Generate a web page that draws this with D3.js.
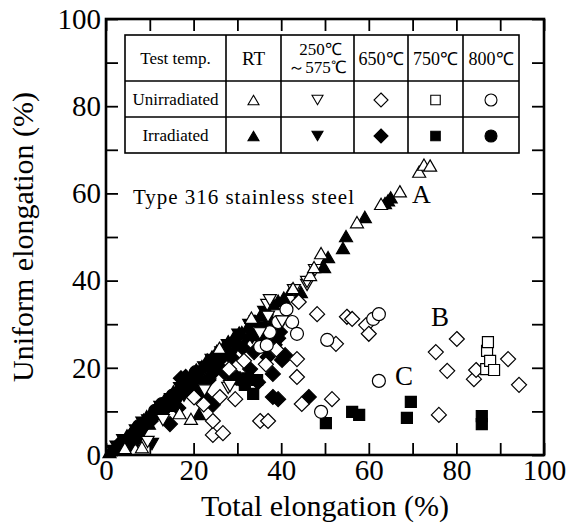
<!DOCTYPE html>
<meta charset="utf-8">
<script src="https://d3js.org/d3.v7.min.js"></script>
<style>
  body { margin: 0; background: #fff; }
  text { font-family: "Liberation Serif", "Times New Roman", serif; fill: #000; }
</style>
<div id="chart"></div>
<script>

// data: [total elongation %, uniform elongation %]
const rtUnirr = [[4.3,1.6],[8.2,1.8],[16.8,9.6],[19.4,8.3],[25.9,24.6],[33.2,31.5],[42.7,38.3],[46.6,41.3],[47.5,43.1],[49.1,46.3],[57.3,53.4],[62.8,57.6],[67.1,60.5],[71.5,65.0],[72.6,66.6],[74.0,66.4]]
const rtIrr = [[0.8,0.7],[1.9,1.6],[2.7,2.5],[3.6,3.2],[4.8,4.5],[5.2,3.6],[5.6,5.1],[6.5,6.2],[7.4,6.8],[8.6,8.1],[9.3,8.9],[9.8,7.2],[10.4,9.6],[11.2,10.6],[12.1,11.2],[13.3,12.6],[14.2,13.1],[14.7,11.3],[15.4,14.6],[16.3,15.2],[17.6,16.3],[18.5,17.5],[19.1,14.8],[19.7,18.2],[20.6,19.6],[21.2,9.4],[21.9,20.4],[23.1,21.9],[23.6,18.9],[24.2,22.6],[25.3,23.9],[26.8,24.8],[27.9,26.1],[28.4,23.6],[29.1,26.9],[30.4,28.1],[31.0,28.2],[32.5,29.6],[33.1,27.5],[34.0,30.8],[35.3,32.1],[36.7,33.4],[37.4,31.6],[38.2,34.6],[39.3,35.4],[40.6,36.1],[42.3,37.9],[44.5,37.4],[49.5,43.3],[49.8,43.1],[50.7,45.4],[54.1,47.5],[54.8,50.2],[59.1,54.6],[63.7,57.8],[64.4,58.4],[65.0,59.1]]
const midUnirr = [[9.5,3.0],[13.0,8.0],[22.5,14.8],[27.9,15.4],[28.3,15.8],[35.1,27.9],[36.8,34.4],[37.0,31.7],[37.4,35.5],[40.2,30.6],[42.9,37.8],[45.9,39.0],[45.9,39.7],[47.7,42.4]]
const midIrr = [[1.6,0.9],[2.4,1.9],[3.9,3.4],[4.6,2.7],[5.5,1.8],[6.8,5.6],[7.2,3.1],[7.9,4.3],[8.3,7.4],[9.6,7.9],[10.5,2.5],[11.8,9.4],[12.4,11.0],[12.9,10.2],[13.1,8.7],[14.8,12.8],[15.9,11.4],[16.9,15.3],[17.8,13.6],[18.3,15.1],[19.6,17.6],[20.8,15.4],[21.4,17.9],[22.4,20.1],[24.1,21.8],[25.2,20.6],[26.3,23.5],[27.8,25.2],[28.8,23.1],[29.6,25.4],[30.2,27.6],[31.9,26.3],[32.7,29.8],[33.4,26.9],[34.2,30.6],[35.5,29.4],[36.1,32.8]]
const t650Unirr = [[20.1,13.2],[22.3,11.6],[24.4,4.6],[24.4,7.8],[26.0,13.3],[26.7,5.0],[28.1,19.7],[29.5,12.8],[31.5,21.6],[35.2,7.8],[37.0,7.8],[36.5,20.8],[38.9,24.2],[43.6,17.9],[43.6,22.0],[44.0,35.1],[44.7,11.7],[48.2,32.3],[51.6,12.8],[52.5,25.5],[55.0,31.7],[56.2,31.2],[59.4,29.8],[60.0,27.8],[75.3,23.6],[76.0,9.2],[77.9,19.3],[80.1,26.6],[84.0,17.4],[84.5,19.5],[91.8,22.0],[94.3,16.1]]
const t650Irr = [[3.1,2.6],[6.2,5.0],[8.9,6.9],[10.2,7.8],[11.5,9.4],[13.6,11.5],[14.6,7.1],[15.8,12.9],[16.5,10.8],[17.1,17.6],[17.4,14.9],[18.2,17.9],[18.9,15.3],[19.8,16.7],[20.6,14.1],[21.7,16.3],[22.9,12.8],[23.4,17.2],[24.4,11.5],[24.9,19.4],[25.7,20.3],[26.5,22.3],[27.2,18.8],[28.6,22.4],[29.9,17.7],[30.6,17.4],[31.2,24.6],[32.9,19.7],[33.8,23.6],[34.4,27.8],[34.7,16.7],[35.8,26.4],[36.9,22.5],[37.6,29.9],[38.1,18.6],[38.1,13.3],[38.5,25.3],[39.3,12.8],[39.3,26.8],[39.7,28.2],[40.2,21.8],[40.9,22.9],[46.3,13.3]]
const t750Unirr = [[86.8,19.7],[87.0,23.9],[87.2,25.9],[87.7,21.6],[88.6,19.5]]
const t750Irr = [[29.0,17.4],[31.7,16.1],[32.4,17.6],[33.6,14.0],[34.5,17.2],[50.2,7.3],[56.2,9.9],[57.8,9.2],[68.7,8.5],[69.6,12.2],[85.8,8.9],[85.8,7.1]]
const t800Unirr = [[35.2,24.8],[36.7,25.2],[37.4,28.2],[39.3,30.5],[41.2,33.4],[42.5,30.5],[43.6,27.8],[49.1,9.9],[50.5,26.4],[61.0,31.2],[62.3,32.3],[62.3,17.0]]
const t800Irr = [[7.5,6.6],[11.2,10.1],[12.8,11.7],[15.2,13.6],[17.9,16.4],[20.5,19.0],[23.6,20.9],[26.1,22.9],[29.4,25.8]]

const xTicks = [0, 20, 40, 60, 80, 100]
const yTicks = [0, 20, 40, 60, 80, 100]
const tempLabels = ["RT", ["250℃", "～575℃"], "650℃", "750℃", "800℃"]
const shapes = ["up", "down", "diamond", "square", "circle"]

// shape paths, drawn around (0,0)
function shapePath(kind, s) {
  const p = d3.path()
  if (kind === "up" || kind === "down") {
    const h = s * 0.866, k = kind === "up" ? 1 : -1
    p.moveTo(0, -k * h / 2); p.lineTo(s / 2, k * h / 2); p.lineTo(-s / 2, k * h / 2); p.closePath()
  } else if (kind === "diamond") {
    const r = s / 2
    p.moveTo(0, -r); p.lineTo(r, 0); p.lineTo(0, r); p.lineTo(-r, 0); p.closePath()
  } else if (kind === "square") {
    p.rect(-s / 2, -s / 2, s, s)
  } else {
    p.arc(0, 0, s / 2, 0, 2 * Math.PI)
  }
  return p.toString()
}
const plotSize = { up: 13, down: 13, diamond: 15, square: 11, circle: 13 }
const keySize = { up: 11, down: 11, diamond: 14, square: 9.5, circle: 12 }

const width = 568, height = 524
const x = d3.scaleLinear().domain([0, 100]).range([106, 544])
const y = d3.scaleLinear().domain([0, 100]).range([455, 19])

const svg = d3.select("#chart").append("svg")
  .attr("width", width).attr("height", height)

// points: filled first, open ones on top
const series = [
  { data: rtIrr, shape: "up", filled: true },
  { data: midIrr, shape: "down", filled: true },
  { data: t650Irr, shape: "diamond", filled: true },
  { data: t750Irr, shape: "square", filled: true },
  { data: t800Irr, shape: "circle", filled: true },
  { data: t650Unirr, shape: "diamond", filled: false },
  { data: t800Unirr, shape: "circle", filled: false },
  { data: t750Unirr, shape: "square", filled: false },
  { data: midUnirr, shape: "down", filled: false },
  { data: rtUnirr, shape: "up", filled: false }
]

const pts = svg.append("g")
series.forEach(s => {
  pts.selectAll(null)
    .data(s.data)
    .join("path")
      .attr("transform", d => `translate(${x(d[0])},${y(d[1])})`)
      .attr("d", shapePath(s.shape, plotSize[s.shape]))
      .attr("fill", s.filled ? "#000" : "#fff")
      .attr("stroke", "#000")
      .attr("stroke-width", 1.2)
})

// axes with inward ticks on all four sides
const tenTicks = d3.range(0, 101, 10)

svg.append("g").attr("transform", `translate(0,${y(0)})`)
  .call(d3.axisBottom(x).tickValues(tenTicks).tickSize(-12).tickPadding(4).tickFormat(d => xTicks.includes(d) ? d : ""))
svg.append("g").attr("transform", `translate(${x(0)},0)`)
  .call(d3.axisLeft(y).tickValues(tenTicks).tickSize(-12).tickPadding(5).tickFormat(d => yTicks.includes(d) ? d : ""))
svg.append("g").attr("transform", `translate(0,${y(100)})`)
  .call(d3.axisTop(x).tickValues(tenTicks).tickSize(-12).tickFormat(""))
svg.append("g").attr("transform", `translate(${x(100)},0)`)
  .call(d3.axisRight(y).tickValues(tenTicks).tickSize(-12).tickFormat(""))

svg.selectAll(".domain").remove()
svg.selectAll(".tick line").attr("stroke", "#000").attr("stroke-width", 1.8)
svg.selectAll(".tick text")
  .style("font-family", '"Liberation Serif", "Times New Roman", serif')
  .attr("font-size", 29).attr("fill", "#000")

svg.append("rect")
  .attr("x", x(0)).attr("y", y(100))
  .attr("width", x(100) - x(0)).attr("height", y(0) - y(100))
  .attr("fill", "none").attr("stroke", "#000").attr("stroke-width", 2.6)

// axis titles
svg.append("text")
  .attr("x", (x(0) + x(100)) / 2).attr("y", 516)
  .attr("text-anchor", "middle").attr("font-size", 30)
  .text("Total elongation (%)")
svg.append("text")
  .attr("transform", `translate(33,${(y(0) + y(100)) / 2}) rotate(-90)`)
  .attr("text-anchor", "middle").attr("font-size", 30)
  .text("Uniform elongation (%)")

// annotations
svg.append("text").attr("x", 133).attr("y", 204).attr("font-size", 21)
  .attr("textLength", 221).attr("lengthAdjust", "spacing")
  .text("Type 316 stainless steel")
svg.append("text").attr("x", 412).attr("y", 203).attr("font-size", 26).text("A")
svg.append("text").attr("x", 431).attr("y", 326).attr("font-size", 27).text("B")
svg.append("text").attr("x", 395).attr("y", 385).attr("font-size", 27).text("C")

// legend table
const colX = [125, 226, 281, 354, 408, 463, 519]
const rowY = [35, 81, 117, 153]
const tbl = svg.append("g")
tbl.append("rect")
  .attr("x", colX[0]).attr("y", rowY[0])
  .attr("width", colX[6] - colX[0]).attr("height", rowY[3] - rowY[0])
  .attr("fill", "#fff").attr("stroke", "#000").attr("stroke-width", 1.6)
tbl.selectAll("line.c").data(colX.slice(1, -1)).join("line")
  .attr("x1", d => d).attr("x2", d => d).attr("y1", rowY[0]).attr("y2", rowY[3])
  .attr("stroke", "#000").attr("stroke-width", 1.6)
tbl.selectAll("line.r").data(rowY.slice(1, -1)).join("line")
  .attr("x1", colX[0]).attr("x2", colX[6]).attr("y1", d => d).attr("y2", d => d)
  .attr("stroke", "#000").attr("stroke-width", 1.6)

const midCol = i => (colX[i] + colX[i + 1]) / 2
const midRow = i => (rowY[i] + rowY[i + 1]) / 2

tbl.append("text").attr("x", midCol(0)).attr("y", midRow(0) + 6)
  .attr("text-anchor", "middle").attr("font-size", 17).text("Test temp.")
tbl.append("text").attr("x", midCol(0)).attr("y", midRow(1) + 6)
  .attr("text-anchor", "middle").attr("font-size", 17).text("Unirradiated")
tbl.append("text").attr("x", midCol(0)).attr("y", midRow(2) + 6)
  .attr("text-anchor", "middle").attr("font-size", 17).text("Irradiated")

tempLabels.forEach((lab, i) => {
  if (Array.isArray(lab)) {
    tbl.append("text").attr("x", midCol(i + 1) + 3).attr("y", midRow(0) - 3)
      .attr("text-anchor", "middle").attr("font-size", 17).text(lab[0])
    tbl.append("text").attr("x", midCol(i + 1)).attr("y", midRow(0) + 15)
      .attr("text-anchor", "middle").attr("font-size", 17).text(lab[1])
  } else {
    tbl.append("text").attr("x", midCol(i + 1)).attr("y", midRow(0) + 7)
      .attr("text-anchor", "middle").attr("font-size", i === 0 ? 19 : 18).text(lab)
  }
})

tbl.selectAll("path.key")
  .data(shapes.flatMap((s, i) => [{ s, i, filled: false }, { s, i, filled: true }]))
  .join("path")
    .attr("transform", d => `translate(${midCol(d.i + 1)},${midRow(d.filled ? 2 : 1) + 1})`)
    .attr("d", d => shapePath(d.s, keySize[d.s]))
    .attr("fill", d => d.filled ? "#000" : "#fff")
    .attr("stroke", "#000").attr("stroke-width", 1.1)
</script>
